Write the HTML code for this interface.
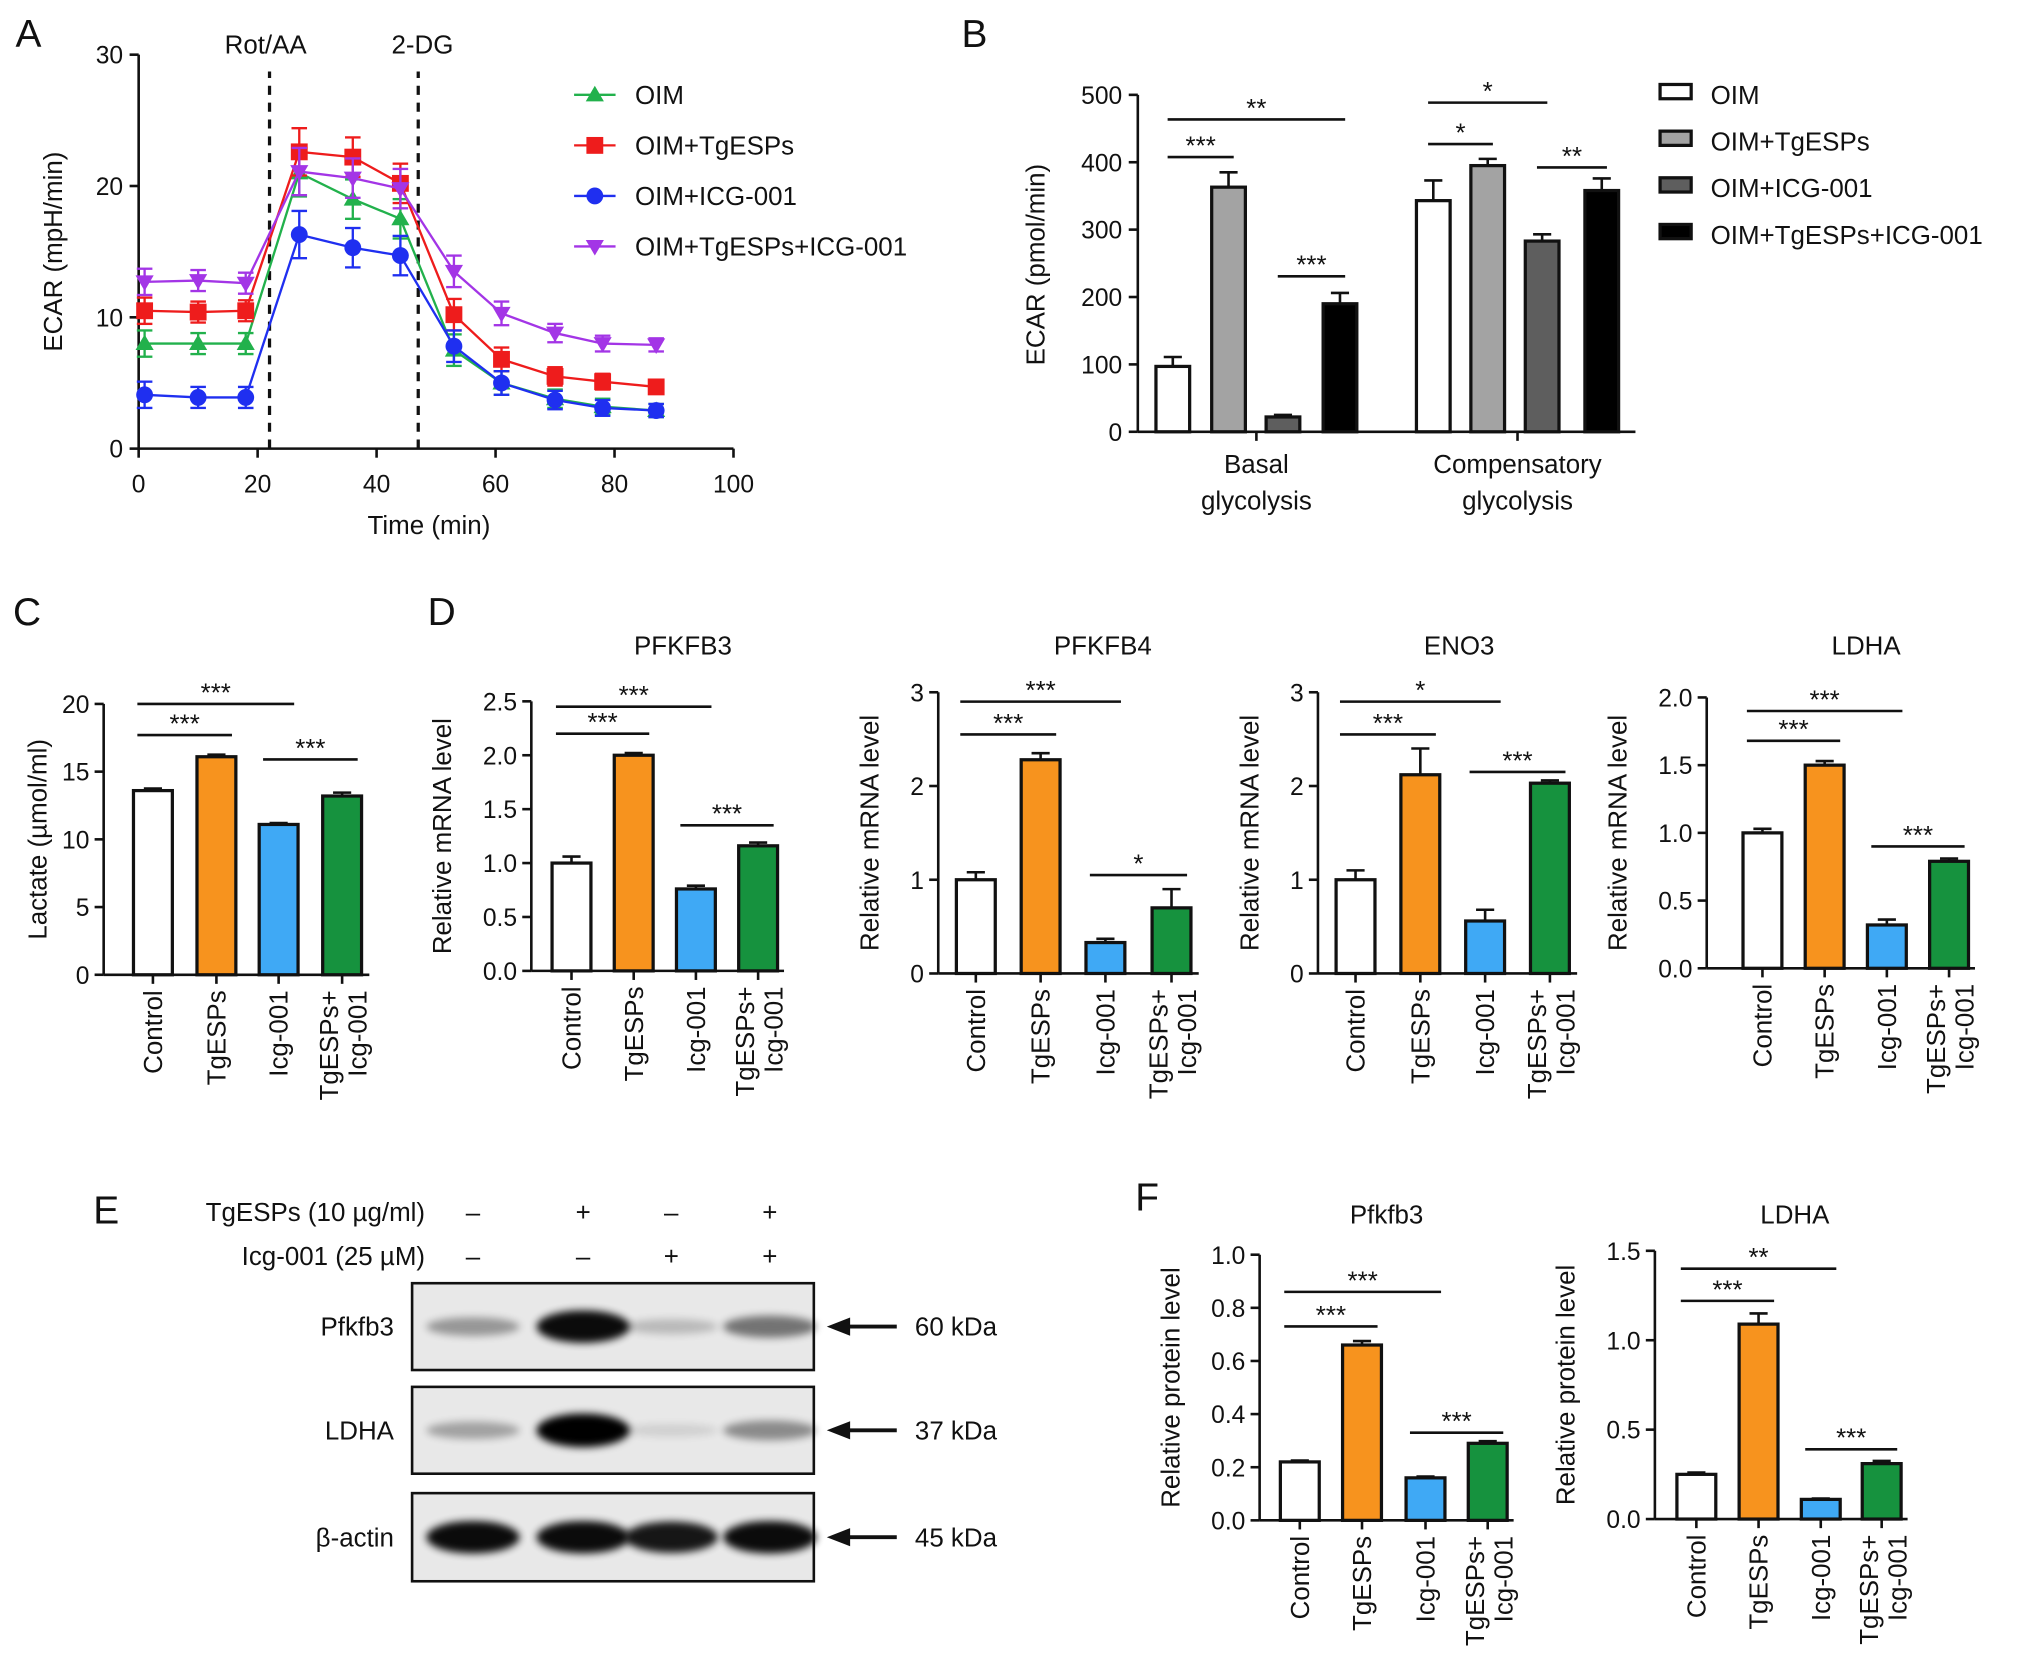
<!DOCTYPE html>
<html><head><meta charset="utf-8">
<style>
html,body{margin:0;padding:0;background:#fff}
svg{display:block}
text{font-family:"Liberation Sans",sans-serif;fill:#111}
</style></head>
<body>
<svg id="fig" width="2032" height="1680" viewBox="0 0 1568 1296" xmlns="http://www.w3.org/2000/svg">
<defs><filter id="blur" x="-20%" y="-50%" width="140%" height="200%"><feGaussianBlur stdDeviation="3"/></filter></defs>
</svg>
<script>
// ---------- Panel A data ----------
const timeA = [1,10,18,27,36,44,53,61,70,78,87];
const oimA = [8,8,8,21,19,17.5,7.5,5,3.8,3.2,2.9];
const tgA = [10.5,10.4,10.5,22.6,22.2,20.2,10.2,6.8,5.5,5.1,4.7];
const icgA = [4.1,3.9,3.9,16.3,15.3,14.7,7.8,5,3.7,3.1,2.9];
const tgIcgA = [12.7,12.8,12.6,21.1,20.6,19.8,13.5,10.3,8.8,8,7.9];
const errA = [1,0.8,0.8,1.8,1.5,1.5,1.2,0.9,0.7,0.6,0.5];
const xTicksA = [0,20,40,60,80,100];
const yTicksA = [0,10,20,30];
const seriesNamesA = ["OIM","OIM+TgESPs","OIM+ICG-001","OIM+TgESPs+ICG-001"];
// ---------- Panel B data ----------
const groupsB = ["Basal glycolysis","Compensatory glycolysis"];
const basalB = [97,363,22,190];
const compB = [343,395,283,358];
const basalErrB = [14,22,3,16];
const compErrB = [30,10,10,18];
const yTicksB = [0,100,200,300,400,500];
// ---------- Panels C/D/F data ----------
const catLabels = ["Control","TgESPs","Icg-001","TgESPs+|Icg-001"];
const lactateC = [13.6,16.1,11.1,13.2];
const pfkfb3D = [1.0,2.0,0.76,1.16];
const pfkfb4D = [1.0,2.28,0.33,0.7];
const eno3D = [1.0,2.12,0.56,2.03];
const ldhaD = [1.0,1.5,0.32,0.79];
const pfkfb3F = [0.22,0.66,0.16,0.29];
const ldhaF = [0.25,1.09,0.11,0.31];
const ticksC = [0,5,10,15,20];
const ticksD1 = [0,0.5,1.0,1.5,2.0,2.5];
const ticks3 = [0,1,2,3];
const ticksD4 = [0,0.5,1.0,1.5,2.0];
const ticksF1 = [0,0.2,0.4,0.6,0.8,1.0];
const ticksF2 = [0,0.5,1.0,1.5];

const NS="http://www.w3.org/2000/svg";
const svg=document.getElementById('fig');
function mk(tag,attrs,parent,txt){const e=document.createElementNS(NS,tag);for(const k in attrs)e.setAttribute(k,attrs[k]);if(txt!==undefined)e.textContent=txt;(parent||svg).appendChild(e);return e;}
function grp(name,parent){const g=mk('g',{},parent);return g;}
function label(x,y,t,size,parent,extra){const o=Object.assign({x:x,y:y,'font-size':size},extra||{});return mk('text',o,parent,t);}

// panel letters
[["A",12,36],["B",742,36],["C",10,482],["D",330,482],["E",72,944],["F",876,934]].forEach(p=>{
  const t=label(p[1],p[2],p[0],30,svg);
});

// ---------- Panel A ----------
(function(){
  const g=grp('panel-a-line-chart');
  const x0=107,x1=566,y0=346,y1=42;
  const sx=v=>x0+(v/100)*(x1-x0), sy=v=>y0-(v/30)*(y0-y1);
  mk('line',{x1:x0,y1:y0,x2:x1,y2:y0,stroke:'#111','stroke-width':2},g);
  mk('line',{x1:x0,y1:y0,x2:x0,y2:y1,stroke:'#111','stroke-width':2},g);
  xTicksA.forEach(v=>{mk('line',{x1:sx(v),y1:y0,x2:sx(v),y2:y0+7,stroke:'#111','stroke-width':2},g);label(sx(v),y0+34,v,19,g,{'text-anchor':'middle'});});
  yTicksA.forEach(v=>{mk('line',{x1:x0-7,y1:sy(v),x2:x0,y2:sy(v),stroke:'#111','stroke-width':2},g);label(x0-12,sy(v)+7,v,19,g,{'text-anchor':'end'});});
  const xt=label(331,412,'Time (min)',20,g,{'text-anchor':'middle'});
  const yt=label(48,194,'ECAR (mpH/min)',20,g,{'text-anchor':'middle',transform:'rotate(-90 48 194)'});
  [[22,'Rot/AA',205],[47,'2-DG',326]].forEach(d=>{mk('line',{x1:sx(d[0]),y1:y0,x2:sx(d[0]),y2:55,stroke:'#111','stroke-width':2.5,'stroke-dasharray':'7,6'},g);label(d[2],41,d[1],20,g,{'text-anchor':'middle'});});
  const series=[[oimA,'#22b14c','tri'],[tgA,'#ee1c1c','sq'],[icgA,'#1f2ff0','circ'],[tgIcgA,'#a335e6','tridown']];
  function marker(x,y,type,col,p){
    if(type==='tri')mk('polygon',{points:`${x},${y-7} ${x-7},${y+5} ${x+7},${y+5}`,fill:col},p);
    else if(type==='sq')mk('rect',{x:x-6.5,y:y-6.5,width:13,height:13,fill:col},p);
    else if(type==='circ')mk('circle',{cx:x,cy:y,r:6.5,fill:col},p);
    else mk('polygon',{points:`${x},${y+7} ${x-7},${y-5} ${x+7},${y-5}`,fill:col},p);
  }
  series.forEach((s,si)=>{
    const sg=grp('series-'+seriesNamesA[si].toLowerCase().replace(/[^a-z0-9]+/g,'-'),g);
    mk('polyline',{points:timeA.map((t,i)=>sx(t)+','+sy(s[0][i])).join(' '),fill:'none',stroke:s[1],'stroke-width':1.8},sg);
    timeA.forEach((t,i)=>{
      const x=sx(t),y=sy(s[0][i]),e=errA[i]*(y0-y1)/30;
      mk('line',{x1:x,y1:y-e,x2:x,y2:y+e,stroke:s[1],'stroke-width':1.8},sg);
      mk('line',{x1:x-6,y1:y-e,x2:x+6,y2:y-e,stroke:s[1],'stroke-width':1.8},sg);
      mk('line',{x1:x-6,y1:y+e,x2:x+6,y2:y+e,stroke:s[1],'stroke-width':1.8},sg);
      const m=marker(x,y,s[2],s[1],sg);
    });
    const ly=76+si*39;
    const lg=grp('legend-entry-'+(si+1),g);
    mk('line',{x1:443,y1:ly-3,x2:475,y2:ly-3,stroke:s[1],'stroke-width':1.8},lg);
    marker(459,ly-3,s[2],s[1],lg);
    label(490,ly+4,seriesNamesA[si],20,lg);
  });
})();

// ---------- Panel B ----------
(function(){
  const g=grp('panel-b-bar-chart');
  const x0=878,y0=333,y1=73,xe=1262;
  const sy=v=>y0-(v/500)*(y0-y1);
  const fills=['#fff','#a3a3a3','#5e5e5e','#000'];
  mk('line',{x1:x0,y1:y0,x2:xe,y2:y0,stroke:'#111','stroke-width':2},g);
  mk('line',{x1:x0,y1:y0,x2:x0,y2:y1,stroke:'#111','stroke-width':2},g);
  yTicksB.forEach(v=>{mk('line',{x1:x0-7,y1:sy(v),x2:x0,y2:sy(v),stroke:'#111','stroke-width':2},g);label(x0-12,sy(v)+7,v,19,g,{'text-anchor':'end'});});
  label(806,204,'ECAR (pmol/min)',20,g,{'text-anchor':'middle',transform:'rotate(-90 806 204)'});
  const centers=[[905,948,990,1034],[1106,1148,1190,1236]];
  [basalB,compB].forEach((vals,gi)=>{
    const errs=gi?compErrB:basalErrB;
    vals.forEach((v,i)=>{
      const x=centers[gi][i],y=sy(v),e=errs[i]*(y0-y1)/500;
      mk('line',{x1:x,y1:y-e,x2:x,y2:y,stroke:'#111','stroke-width':2},g);
      mk('line',{x1:x-7,y1:y-e,x2:x+7,y2:y-e,stroke:'#111','stroke-width':2},g);
      const r=mk('rect',{x:x-13,y:y,width:26,height:y0-y,fill:fills[i],stroke:'#111','stroke-width':2.5},g);
      
    });
    const cx=(centers[gi][0]+centers[gi][3])/2;
    mk('line',{x1:cx,y1:y0,x2:cx,y2:y0+7,stroke:'#111','stroke-width':2},g);
    const w=groupsB[gi].split(' ');
    label(cx,y0+32,w[0],20,g,{'text-anchor':'middle'});label(cx,y0+60,w[1],20,g,{'text-anchor':'middle'});
  });
  const br=[[0,3,92,'**'],[0,1,121,'***'],[2,3,213,'***']];
  const br2=[[0,2,79,'*'],[0,1,111,'*'],[2,3,129,'**']];
  [[br,0],[br2,1]].forEach(b=>b[0].forEach(s=>{
    const xa=centers[b[1]][s[0]]-4,xb=centers[b[1]][s[1]]+4;
    mk('line',{x1:xa,y1:s[2],x2:xb,y2:s[2],stroke:'#111','stroke-width':2},g);
    label((xa+xb)/2,s[2]-2,s[3],20,g,{'text-anchor':'middle'});
  }));
  const names=["OIM","OIM+TgESPs","OIM+ICG-001","OIM+TgESPs+ICG-001"];
  names.forEach((n,i)=>{const ly=72+i*36;const lg=grp('legend-entry-b-'+(i+1),g);
    mk('rect',{x:1281,y:ly-7,width:24,height:11,fill:fills[i],stroke:'#111','stroke-width':2.5},lg);
    label(1320,ly+8,n,20,lg);});
})();

// ---------- generic bar chart for C/D/F ----------
const colors4=['#ffffff','#f7931e','#3fa9f5','#16923e'];
function barChart(name,cfg,vals,errs,ticks,brackets){
  const g=grp(name);
  const {ax,y0,yTop,vmax,centers,bw,ytitle,title,titleX,titleY,xend,fmt}=cfg;
  const sy=v=>y0-(v/vmax)*(y0-yTop);
  mk('line',{x1:ax,y1:y0,x2:xend,y2:y0,stroke:'#111','stroke-width':2},g);
  mk('line',{x1:ax,y1:y0,x2:ax,y2:yTop,stroke:'#111','stroke-width':2},g);
  ticks.forEach(v=>{mk('line',{x1:ax-7,y1:sy(v),x2:ax,y2:sy(v),stroke:'#111','stroke-width':2},g);label(ax-11,sy(v)+7,fmt(v),19,g,{'text-anchor':'end'});});
  const ty=(y0+yTop)/2,tx=ax-(cfg.ytOff||52);
  label(tx,ty,ytitle,20,g,{'text-anchor':'middle',transform:`rotate(-90 ${tx} ${ty})`});
  if(title)label(titleX,titleY,title,20,g,{'text-anchor':'middle'});
  vals.forEach((v,i)=>{
    const x=centers[i],y=sy(v),e=errs[i]*(y0-yTop)/vmax;
    mk('line',{x1:x,y1:y-e,x2:x,y2:y,stroke:'#111','stroke-width':2},g);
    mk('line',{x1:x-7,y1:y-e,x2:x+7,y2:y-e,stroke:'#111','stroke-width':2},g);
    const r=mk('rect',{x:x-bw/2,y:y,width:bw,height:y0-y,fill:colors4[i],stroke:'#111','stroke-width':2.5},g);
    
    
    mk('line',{x1:x,y1:y0,x2:x,y2:y0+7,stroke:'#111','stroke-width':2},g);
    const parts=catLabels[i].split('|');
    if(parts.length===1){label(x+7,y0+12,parts[0],20,g,{'text-anchor':'end',transform:`rotate(-90 ${x+7} ${y0+12})`});}
    else{label(x-3,y0+12,parts[0],20,g,{'text-anchor':'end',transform:`rotate(-90 ${x-3} ${y0+12})`});
         label(x+19,y0+12,parts[1],20,g,{'text-anchor':'end',transform:`rotate(-90 ${x+19} ${y0+12})`});}
  });
  brackets.forEach(b=>{
    const xa=centers[b[0]]-12,xb=centers[b[1]]+12,yy=sy(b[2]);
    mk('line',{x1:xa,y1:yy,x2:xb,y2:yy,stroke:'#111','stroke-width':2},g);
    label((xa+xb)/2,yy-2,b[3],20,g,{'text-anchor':'middle'});
  });
}
const f0=v=>String(v), f1=v=>v.toFixed(1);
barChart('panel-c-lactate',{ax:80,y0:752,yTop:543,vmax:20,centers:[118,167,215,264],bw:30,ytitle:'Lactate (µmol/ml)',xend:285,fmt:f0,ytOff:44},
  lactateC,[0.15,0.15,0.1,0.25],ticksC,[[0,2,20,'***'],[0,1,17.7,'***'],[2,3,15.9,'***']]);
barChart('panel-d-pfkfb3',{ax:410,y0:749,yTop:541,vmax:2.5,centers:[441,489,537,585],bw:30,ytitle:'Relative mRNA level',title:'PFKFB3',titleX:527,titleY:505,xend:605,fmt:f1,ytOff:62},
  pfkfb3D,[0.06,0.02,0.03,0.03],ticksD1,[[0,2,2.45,'***'],[0,1,2.2,'***'],[2,3,1.35,'***']]);
barChart('panel-d-pfkfb4',{ax:724,y0:751,yTop:534,vmax:3,centers:[753,803,853,904],bw:30,ytitle:'Relative mRNA level',title:'PFKFB4',titleX:851,titleY:505,xend:925,fmt:f0,ytOff:46},
  pfkfb4D,[0.08,0.07,0.04,0.2],ticks3,[[0,2,2.9,'***'],[0,1,2.55,'***'],[2,3,1.05,'*']]);
barChart('panel-d-eno3',{ax:1017,y0:751,yTop:534,vmax:3,centers:[1046,1096,1146,1196],bw:30,ytitle:'Relative mRNA level',title:'ENO3',titleX:1126,titleY:505,xend:1217,fmt:f0,ytOff:46},
  eno3D,[0.1,0.28,0.12,0.03],ticks3,[[0,2,2.9,'*'],[0,1,2.55,'***'],[2,3,2.15,'***']]);
barChart('panel-d-ldha',{ax:1317,y0:747,yTop:538,vmax:2.0,centers:[1360,1408,1456,1504],bw:30,ytitle:'Relative mRNA level',title:'LDHA',titleX:1440,titleY:505,xend:1524,fmt:f1,ytOff:62},
  ldhaD,[0.03,0.03,0.04,0.02],ticksD4,[[0,2,1.9,'***'],[0,1,1.68,'***'],[2,3,0.9,'***']]);
barChart('panel-f-pfkfb3',{ax:972,y0:1173,yTop:968,vmax:1.0,centers:[1003,1051,1100,1148],bw:30,ytitle:'Relative protein level',title:'Pfkfb3',titleX:1070,titleY:944,xend:1168,fmt:f1,ytOff:62},
  pfkfb3F,[0.005,0.015,0.005,0.008],ticksF1,[[0,2,0.86,'***'],[0,1,0.73,'***'],[2,3,0.33,'***']]);
barChart('panel-f-ldha',{ax:1277,y0:1172,yTop:965,vmax:1.5,centers:[1309,1357,1405,1452],bw:30,ytitle:'Relative protein level',title:'LDHA',titleX:1385,titleY:944,xend:1472,fmt:f1,ytOff:62},
  ldhaF,[0.01,0.06,0.005,0.015],ticksF2,[[0,2,1.4,'**'],[0,1,1.22,'***'],[2,3,0.39,'***']]);

// ---------- Panel E western blot ----------
(function(){
  const g=grp('panel-e-western-blot');
  const lanes=[365,450,518,594];
  const tg=['–','+','–','+'], icg=['–','–','+','+'];
  label(328,942,'TgESPs (10 µg/ml)',20,g,{'text-anchor':'end'});
  label(328,976,'Icg-001 (25 µM)',20,g,{'text-anchor':'end'});
  lanes.forEach((x,i)=>{label(x,942,tg[i],20,g,{'text-anchor':'middle'});label(x,976,icg[i],20,g,{'text-anchor':'middle'});});
  const rows=[['Pfkfb3',990,1057,'60 kDa',[0.35,0.95,0.2,0.5]],['LDHA',1070,1137,'37 kDa',[0.3,1,0.1,0.4]],['β-actin',1152,1220,'45 kDa',[0.95,0.95,0.9,0.95]]];
  rows.forEach(r=>{
    const rg=grp('blot-'+r[0].toLowerCase().replace(/[^a-z0-9]+/g,'-'),g);
    mk('rect',{x:318,y:r[1],width:310,height:r[2]-r[1],fill:'#e8e8e8',stroke:'#111','stroke-width':2},rg);
    const cy=(r[1]+r[2])/2;
    lanes.forEach((x,i)=>{const s=r[4][i];
      mk('ellipse',{cx:x,cy:cy,rx:36,ry:4+9*s,fill:'#000',opacity:s,filter:'url(#blur)'},rg);});
    label(304,cy+7,r[0],20,rg,{'text-anchor':'end'});
    mk('line',{x1:652,y1:cy,x2:692,y2:cy,stroke:'#111','stroke-width':3},rg);
    mk('polygon',{points:`638,${cy} 656,${cy-7} 656,${cy+7}`,fill:'#111'},rg);
    label(706,cy+7,r[3],20,rg);
  });
})();
</script>
</body></html>
